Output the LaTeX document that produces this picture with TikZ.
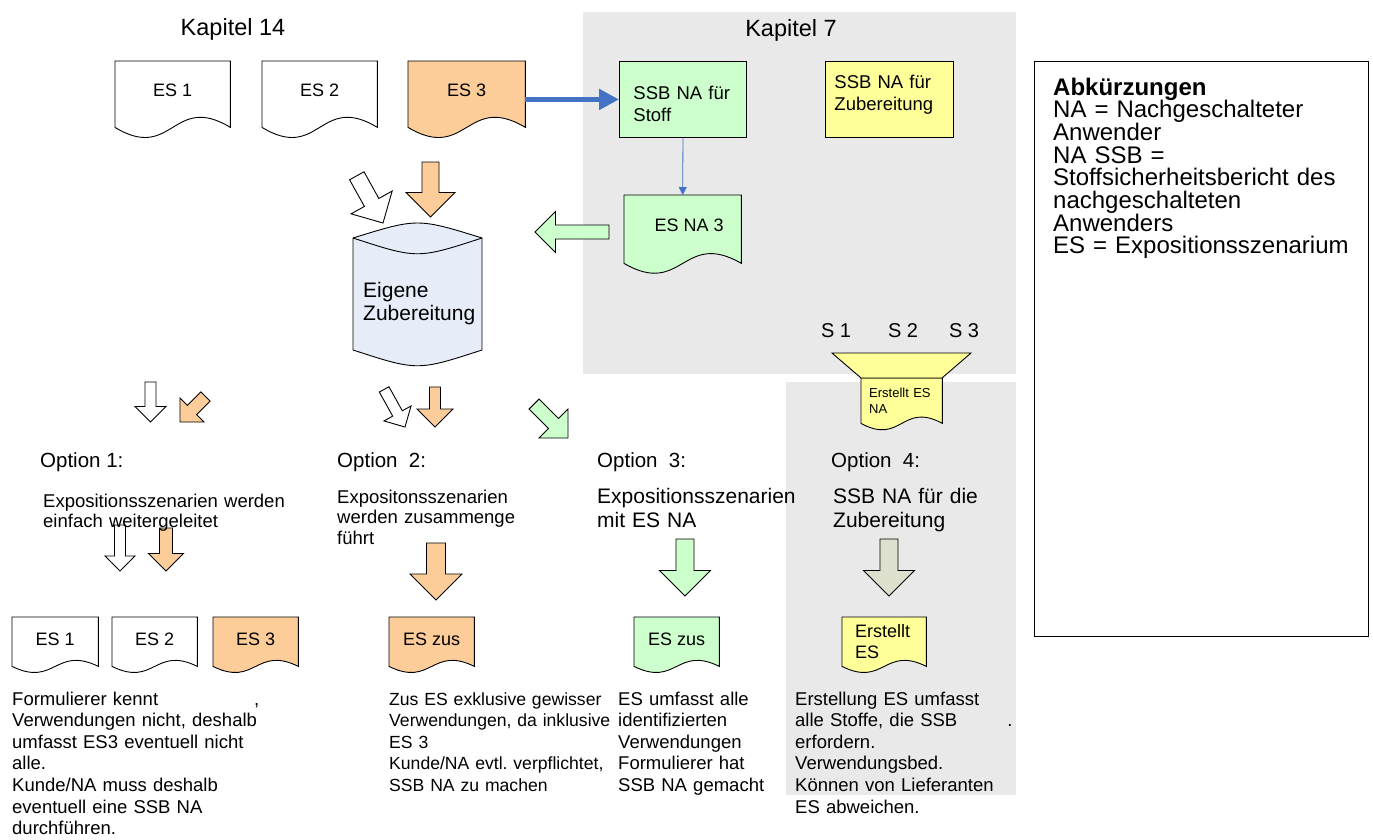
\documentclass[tikz,border=0pt]{standalone}
\usepackage{fontspec}
\setmainfont{Liberation Sans}
\usetikzlibrary{arrows.meta,calc}
\pgfdeclarelayer{background}
\pgfsetlayers{background,main}
\frenchspacing

\definecolor{peach}{RGB}{252,204,153}
\definecolor{mint}{RGB}{204,255,204}
\definecolor{lemon}{RGB}{255,255,153}
\definecolor{cylblue}{RGB}{230,236,248}
\definecolor{bggray}{RGB}{233,233,233}
\definecolor{arrblue}{RGB}{68,114,196}
\definecolor{olivegray}{RGB}{221,224,204}

\newcommand{\fzkap}{\fontsize{23.5}{27}\selectfont}
\newcommand{\fzdoc}{\fontsize{18}{21}\selectfont}
\newcommand{\fzbody}{\fontsize{18.5}{21.6}\selectfont}
\newcommand{\fzopt}{\fontsize{20.5}{24}\selectfont}
\newcommand{\fzbig}{\fontsize{21}{24}\selectfont}
\newcommand{\fzsmall}{\fontsize{13}{16}\selectfont}
\newcommand{\fzs}{\fontsize{20}{24}\selectfont}

\tikzset{
  docline/.style={draw=black, line width=0.9pt, line join=miter},
  arrline/.style={draw=black, line width=0.9pt, line join=miter},
  docnode/.style={anchor=north west, inner sep=0pt, draw=none, font=\fzdoc},
  boxnode/.style={anchor=north west, docline, inner ysep=0pt, align=left, font=\fzbody},
  ftext/.style={anchor=base west, inner sep=0pt, align=left, text width=330pt},
}

% document outline below a named node
\newcommand{\docoutline}[3]{%
  \begin{pgfonlayer}{background}
  \draw[docline, fill=#2] (#1.south west) -- (#1.north west) -- (#1.north east) -- (#1.south east)
    .. controls ($(#1.south)+(0,-#3)$) and ($(#1.south)+(0,#3)$) .. (#1.south west) -- cycle;
  \end{pgfonlayer}}

% block arrow: fill, tip x, tip y, rotation, length, shaft width, head width
\newcommand{\blockarrow}[7]{%
  \begin{scope}[shift={(#2,#3)}, rotate=#4]
  \draw[arrline, fill=#1] (0,0) -- (#7/2,-#7/2) -- (#6/2,-#7/2) -- (#6/2,-#5)
     -- (-#6/2,-#5) -- (-#6/2,-#7/2) -- (-#7/2,-#7/2) -- cycle;
  \end{scope}}

\begin{document}
\begin{tikzpicture}[x=1pt,y=-1pt]
\useasboundingbox (0,0) rectangle (1373,839);
\begin{pgfonlayer}{background}
  \fill[white] (0,0) rectangle (1373,839);
  \fill[bggray] (583,12) rectangle (1016,374);
  \fill[bggray] (786,382) rectangle (1016,795);
\end{pgfonlayer}

% titles
\node[anchor=base, inner sep=0pt, font=\fzkap] (kap14) at (233,35) {Kapitel 14};
\node[anchor=base, inner sep=0pt, font=\fzkap] (kap7) at (791,36) {Kapitel 7};

% top documents
\node[docnode, minimum width=115pt, text height=35pt, text depth=31pt] (es1) at (115,61) {ES 1};
\docoutline{es1}{white}{35}
\node[docnode, minimum width=115pt, text height=35pt, text depth=31pt] (es2) at (262,61) {ES 2};
\docoutline{es2}{white}{35}
\node[docnode, minimum width=117pt, text height=35pt, text depth=31pt] (es3) at (408,61) {ES 3};
\docoutline{es3}{peach}{35}

% Kapitel 7 boxes
\node[boxnode, fill=mint, inner xsep=14pt, text width=99pt, text height=38pt, text depth=38pt] (ssb) at (619,61) {SSB NA für\\Stoff};
\node[boxnode, fill=lemon, inner xsep=9pt, text width=110pt, text height=27pt, text depth=49pt] (ssbz) at (825,61) {SSB NA für\\Zubereitung};
\node[docnode, minimum width=117pt, text height=36pt, text depth=32pt] (esna3) at (624,195) {\hspace{13pt}ES NA 3};
\docoutline{esna3}{mint}{34}

\draw[arrblue, line width=5pt, -{Triangle[length=20pt,width=20pt]}] (es3.east |- ssb.west) -- (ssb.west);
\draw[arrblue, line width=0.8pt, -{Triangle[length=8pt,width=8pt]}] (ssb.south) -- (esna3.north);

% cylinder
\draw[docline, fill=cylblue] (353,238) .. controls (417.5,218) .. (482,238) -- (482,350)
   .. controls (417.5,371) .. (353,350) -- cycle;
\draw[docline] (353,238) .. controls (417.5,259) .. (482,238);
\node[ftext, font=\fontsize{21}{23}\selectfont, text width=150pt] (cyl) at (363,297) {Eigene\\Zubereitung};

% block arrows
\blockarrow{white}{383}{223}{29}{54}{16.5}{47}
\blockarrow{peach}{430.5}{217}{0}{55}{17}{49}
\blockarrow{mint}{535}{232}{-90}{74}{14}{41}
\blockarrow{white}{150.5}{422}{0}{40}{11}{31}
\blockarrow{peach}{180}{422}{-45}{36}{13}{34}
\blockarrow{white}{405}{427}{29}{43}{11}{31}
\blockarrow{peach}{435}{427}{0}{40}{11}{36}
\blockarrow{mint}{568}{438}{45}{48}{14}{41}
\blockarrow{white}{120}{571}{0}{46}{11}{30}
\blockarrow{peach}{166}{571}{0}{43}{13}{35}
\blockarrow{peach}{436}{600}{0}{57}{19}{52}
\blockarrow{mint}{685}{596}{0}{57}{18}{51}
\blockarrow{olivegray}{889}{596}{0}{57}{18}{51}

% S1 S2 S3 and funnel
\node[anchor=base, inner sep=0pt, font=\fzs] (s1) at (836,337) {S 1};
\node[anchor=base, inner sep=0pt, font=\fzs] (s2) at (903,337) {S 2};
\node[anchor=base, inner sep=0pt, font=\fzs] (s3) at (964,337) {S 3};
\draw[docline, fill=lemon] (832,353) -- (971,353) -- (942,378) -- (861,378) -- cycle;
\node[docnode, align=left, inner xsep=8pt, text width=65pt, text height=19pt, text depth=26pt, font=\fzsmall] (esna) at (861,378) {Erstellt ES\\NA};
\docoutline{esna}{lemon}{22}

% options
\node[anchor=base west, inner sep=0pt, font=\fzopt] (o1) at (40,467) {Option 1:};
\node[anchor=base west, inner sep=0pt, font=\fzopt] (o2) at (337,467) {Option\ \ 2:};
\node[anchor=base west, inner sep=0pt, font=\fzopt] (o3) at (597,467) {Option\ \ 3:};
\node[anchor=base west, inner sep=0pt, font=\fzopt] (o4) at (831,467) {Option\ \ 4:};

\node[ftext, font=\fontsize{18.5}{20}\selectfont] (o1t) at (43,507) {Expositionsszenarien werden\\einfach weitergeleitet};
\node[ftext, font=\fontsize{18.5}{20.5}\selectfont] (o2t) at (337,503) {Expositonsszenarien\\werden zusammenge\\führt};
\node[ftext, font=\fzbig] (o3t) at (597,503) {Expositionsszenarien\\mit ES NA};
\node[ftext, font=\fzbig] (o4t) at (833,503) {SSB NA für die\\Zubereitung};

% bottom documents
\node[docnode, minimum width=86pt, text height=28pt, text depth=21pt] (b1) at (12,617) {ES 1};
\docoutline{b1}{white}{21}
\node[docnode, minimum width=85pt, text height=28pt, text depth=21pt] (b2) at (112,617) {ES 2};
\docoutline{b2}{white}{21}
\node[docnode, minimum width=85pt, text height=28pt, text depth=21pt] (b3) at (213,617) {ES 3};
\docoutline{b3}{peach}{21}
\node[docnode, minimum width=85pt, text height=28pt, text depth=21pt] (bz1) at (389,617) {ES zus\hspace{16pt}};
\docoutline{bz1}{peach}{21}
\node[docnode, minimum width=85pt, text height=28pt, text depth=21pt] (bz2) at (634,617) {ES zus};
\docoutline{bz2}{mint}{21}
\node[docnode, align=left, inner xsep=13pt, text width=58pt, text height=20pt, text depth=29pt] (be) at (842,617) {Erstellt\\ES};
\docoutline{be}{lemon}{21}

% bottom texts
\node[ftext, font=\fzbody] (t1) at (12,705) {Formulierer kennt\hspace{96pt},\\Verwendungen nicht, deshalb\\umfasst ES3 eventuell nicht\\alle.\\Kunde/NA muss deshalb\\eventuell eine SSB NA\\durchführen.};
\node[ftext, font=\fontsize{17.6}{21.6}\selectfont] (t2) at (389,705) {Zus ES exklusive gewisser\\Verwendungen, da inklusive\\ES 3\\Kunde/NA evtl. verpflichtet,\\SSB NA zu machen};
\node[ftext, font=\fzbody] (t3) at (618,705) {ES umfasst alle\\identifizierten\\Verwendungen\\Formulierer hat\\SSB NA gemacht};
\node[ftext, font=\fzbody] (t4) at (795,705) {Erstellung ES umfasst\\alle Stoffe, die SSB\hspace{50pt}.\\erfordern.\\Verwendungsbed.\\Können von Lieferanten\\ES abweichen.};

% legend
\node[draw=black, line width=1.1pt, anchor=north west, minimum width=334pt, minimum height=575pt, inner sep=0pt] (legend) at (1034,61) {};
\node[ftext, text width=320pt, font={\fontsize{24}{22.7}\selectfont\lineskiplimit=-20pt}] (legendtext) at (1053,95) {\textbf{Abkürzungen}\\NA = Nachgeschalteter\\Anwender\\NA SSB =\\Stoffsicherheitsbericht des\\nachgeschalteten\\Anwenders\\ES = Expositionsszenarium};
\end{tikzpicture}
\end{document}
